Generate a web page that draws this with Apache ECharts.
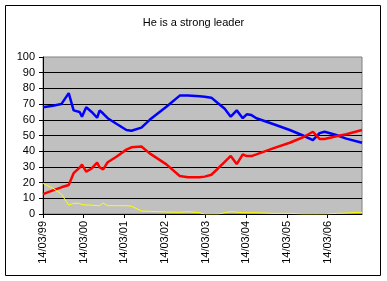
<!DOCTYPE html>
<html lang="en">
<head>
<meta charset="UTF-8">
<title>He is a strong leader</title>
<script src="https://cdn.jsdelivr.net/npm/echarts@6/dist/echarts.min.js"></script>
<style>
  body { margin: 0; background: #fff; }
  #main { width: 387px; height: 281px; }
</style>
</head>
<body>
<div id="main"></div>
<script>
// survey dates
var dates = [
    '1999-03-14', '1999-06-11', '1999-08-26', '1999-10-31', '1999-12-14',
    '2000-02-06', '2000-02-27', '2000-04-05', '2000-05-24', '2000-07-12',
    '2000-08-04', '2000-09-04', '2000-10-15', '2001-01-01', '2001-04-01',
    '2001-05-16', '2001-08-14', '2001-10-27', '2002-03-26', '2002-07-24',
    '2002-10-06', '2003-01-19', '2003-03-05', '2003-05-04', '2003-07-03',
    '2003-09-01', '2003-10-25', '2003-12-18', '2004-02-10', '2004-03-17',
    '2004-04-28', '2004-06-12', '2004-11-08', '2005-04-07', '2005-08-04',
    '2005-11-01', '2005-12-31', '2006-02-14', '2006-05-30', '2006-08-28',
    '2007-01-16'
];
// agree
var agree = [
    68, 69, 70, 77, 66,
    65, 62, 68, 65, 61.3,
    66, 64, 61, 57.5, 53.5,
    53, 55, 60, 68.3, 75.4,
    75.4, 75, 74.7, 74.1, 70.5,
    67, 62, 66, 61, 63.5,
    63, 61, 57.3, 53.5, 50,
    47.1, 51.5, 52.4, 50.3, 48,
    45.4
];
// disagree
var disagree = [
    12.7, 15, 17, 18.5, 26,
    29.5, 31.5, 27, 29, 32.7,
    29.7, 28.4, 33, 36.5, 41,
    42.5, 43, 38.6, 31.6, 24.2,
    23.4, 23.4, 23.8, 25, 29,
    33.2, 37, 31.8, 38, 36.9,
    36.9, 38, 41.8, 45.4, 48.9,
    52.4, 47.8, 47.8, 49.5, 50.8,
    53.5
];
// don't know
var dontKnow = [
    19.5, 16.4, 12.7, 5.7, 6.8,
    6.8, 6.0, 5.7, 5.7, 5.3,
    5.3, 7.0, 5.3, 5.3, 5.3,
    5.0, 1.9, 1.7, 1.3, 1.1,
    1.5, 0.8, 0, 0, 0,
    0.8, 1.5, 1.2, 0.8, 0.8,
    0.8, 0.8, 0.4, 0.4, 0,
    0, 0, 0, 0.4, 0.6,
    1.1
];
var startDate = '1999-03-14';
var endDate = '2007-01-16';
var seriesColors = ['#0000FF', '#FF0000', '#FFFF00'];

var YEAR = 365.25;
function dayOffset(s) {
    return (Date.parse(s) - Date.parse(startDate)) / 864e5;
}
function pairs(vals) {
    return dates.map(function (d, i) { return [dayOffset(d), vals[i]]; });
}

var myChart = echarts.init(document.getElementById('main'), null, { renderer: 'canvas' });

var font = 'Liberation Sans, Arial, sans-serif';

var option = {
    animation: false,
    backgroundColor: '#FFFFFF',
    title: {
        text: 'He is a strong leader',
        left: 'center',
        top: 12,
        textStyle: { fontSize: 11, fontWeight: 'normal', color: '#000', fontFamily: font }
    },
    graphic: [{
        type: 'rect',
        shape: { x: 5.5, y: 5.5, width: 375, height: 270 },
        style: { fill: 'none', stroke: '#000', lineWidth: 1 },
        silent: true
    }],
    grid: {
        left: 43, right: 25, top: 57, bottom: 67,
        show: true,
        backgroundColor: '#C0C0C0',
        borderColor: '#808080',
        borderWidth: 1
    },
    xAxis: {
        type: 'value',
        min: 0,
        max: dayOffset(endDate),
        interval: YEAR,
        axisLine: { show: true, lineStyle: { color: '#000', width: 1 } },
        axisTick: { show: true, length: 4, lineStyle: { color: '#000' } },
        splitLine: { show: false },
        axisLabel: {
            rotate: 90,
            margin: 7,
            showMaxLabel: false,
            color: '#000',
            fontSize: 11,
            fontFamily: font,
            formatter: function (v) {
                var k = v / YEAR;
                if (Math.abs(k - Math.round(k)) > 0.01) return '';
                var yy = (1999 + Math.round(k)) % 100;
                return '14/03/' + (yy < 10 ? '0' + yy : yy);
            }
        }
    },
    yAxis: {
        type: 'value',
        min: 0,
        max: 100,
        interval: 10,
        axisLine: { show: true, lineStyle: { color: '#000', width: 1 } },
        axisTick: { show: true, length: 4, lineStyle: { color: '#000' } },
        splitLine: { show: true, showMaxLine: false, lineStyle: { color: '#000', width: 1 } },
        axisLabel: { color: '#000', fontSize: 11, fontFamily: font, margin: 8 }
    },
    series: [
        { name: 'Agree', type: 'line', data: pairs(agree), showSymbol: false,
          lineStyle: { color: seriesColors[0], width: 2.5 }, itemStyle: { color: seriesColors[0] } },
        { name: 'Disagree', type: 'line', data: pairs(disagree), showSymbol: false,
          lineStyle: { color: seriesColors[1], width: 2.5 }, itemStyle: { color: seriesColors[1] } },
        { name: "Don't know", type: 'line', data: pairs(dontKnow), showSymbol: false,
          lineStyle: { color: seriesColors[2], width: 1 }, itemStyle: { color: seriesColors[2] } }
    ]
};

myChart.setOption(option);
</script>
</body>
</html>
